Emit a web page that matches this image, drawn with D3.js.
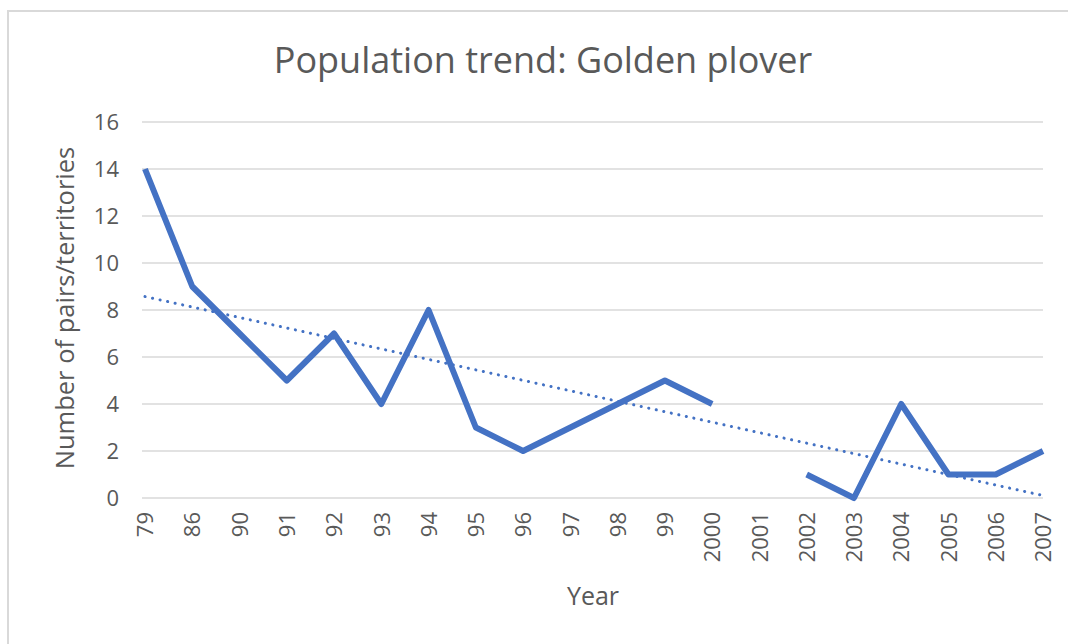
<!DOCTYPE html>
<html>
<head>
<meta charset="utf-8">
<script src="https://cdn.jsdelivr.net/npm/d3@7"></script>
<style>
  body { margin: 0; background: #fff; }
  text { font-family: "Open Sans", "Noto Sans", sans-serif; fill: #595959; }
</style>
</head>
<body>
<div id="chart"></div>
<script>
// data
const years = ["79", "86", "90", "91", "92", "93", "94", "95", "96", "97", "98", "99",
               "2000", "2001", "2002", "2003", "2004", "2005", "2006", "2007"];
const pairs = [14, 9, 7, 5, 7, 4, 8, 3, 2, 3, 4, 5, 4, null, 1, 0, 4, 1, 1, 2];
const yTicks = [0, 2, 4, 6, 8, 10, 12, 14, 16];

const width = 1068, height = 644;
const plot = { left: 145, right: 1043, top: 122, bottom: 498 };

const svg = d3.select("#chart").append("svg")
    .attr("width", width)
    .attr("height", height);

// chart area border
svg.append("rect")
    .attr("x", 8).attr("y", 11)
    .attr("width", width + 20).attr("height", height + 20)
    .attr("fill", "none")
    .attr("stroke", "#d9d9d9")
    .attr("stroke-width", 2);

const x = d3.scalePoint()
    .domain(years)
    .range([plot.left, plot.right]);

const y = d3.scaleLinear()
    .domain([0, 16])
    .range([plot.bottom, plot.top]);

// gridlines
svg.append("g")
    .selectAll("line")
    .data(yTicks)
    .enter().append("line")
    .attr("x1", plot.left - 3)
    .attr("x2", plot.right)
    .attr("y1", d => y(d))
    .attr("y2", d => y(d))
    .attr("stroke", "#d9d9d9")
    .attr("stroke-width", 1.5);

// y axis labels
const yAxis = svg.append("g")
    .attr("transform", `translate(${plot.left - 26},0)`)
    .call(d3.axisLeft(y).tickValues(yTicks).tickSize(0).tickPadding(0));
yAxis.select(".domain").remove();
yAxis.selectAll("text")
    .style("font-size", "22px")
    .attr("fill", "#595959");

// x axis labels, rotated
const xAxis = svg.append("g")
    .attr("transform", `translate(0,${plot.bottom})`)
    .call(d3.axisBottom(x).tickSize(0).tickPadding(0));
xAxis.select(".domain").remove();
xAxis.selectAll("text")
    .style("font-size", "22px")
    .attr("fill", "#595959")
    .attr("text-anchor", "end")
    .attr("dy", "0.35em")
    .attr("transform", "translate(0,14) rotate(-90)")
    .attr("x", 0).attr("y", 0);

// linear trendline (least squares over category index, blanks skipped)
const pts = pairs.map((v, i) => ({ i: i + 1, v })).filter(d => d.v !== null);
const mx = d3.mean(pts, d => d.i), my = d3.mean(pts, d => d.v);
const slope = d3.sum(pts, d => (d.i - mx) * (d.v - my)) / d3.sum(pts, d => (d.i - mx) ** 2);
const icpt = my - slope * mx;
const trend = [1, years.length].map(i => ({ year: years[i - 1], v: icpt + slope * i }));

svg.append("path")
    .datum(trend)
    .attr("fill", "none")
    .attr("stroke", "#4472c4")
    .attr("stroke-width", 3)
    .attr("stroke-linecap", "round")
    .attr("stroke-dasharray", "0.1 7.6")
    .attr("d", d3.line().x(d => x(d.year)).y(d => y(d.v)));

// main series
const line = d3.line()
    .defined(d => d.v !== null)
    .x(d => x(d.year))
    .y(d => y(d.v));

svg.append("path")
    .datum(years.map((yr, i) => ({ year: yr, v: pairs[i] })))
    .attr("fill", "none")
    .attr("stroke", "#4472c4")
    .attr("stroke-width", 6)
    .attr("stroke-linejoin", "round")
    .attr("d", line);

// title
svg.append("text")
    .attr("x", 543)
    .attr("y", 73)
    .attr("text-anchor", "middle")
    .style("font-size", "36px")
    .text("Population trend: Golden plover");

// axis titles
svg.append("text")
    .attr("text-anchor", "middle")
    .attr("transform", `translate(74,${(plot.top + plot.bottom) / 2 - 2}) rotate(-90)`)
    .style("font-size", "25.5px")
    .text("Number of pairs/territories");

svg.append("text")
    .attr("x", 593)
    .attr("y", 605)
    .attr("text-anchor", "middle")
    .style("font-size", "25px")
    .text("Year");
</script>
</body>
</html>
